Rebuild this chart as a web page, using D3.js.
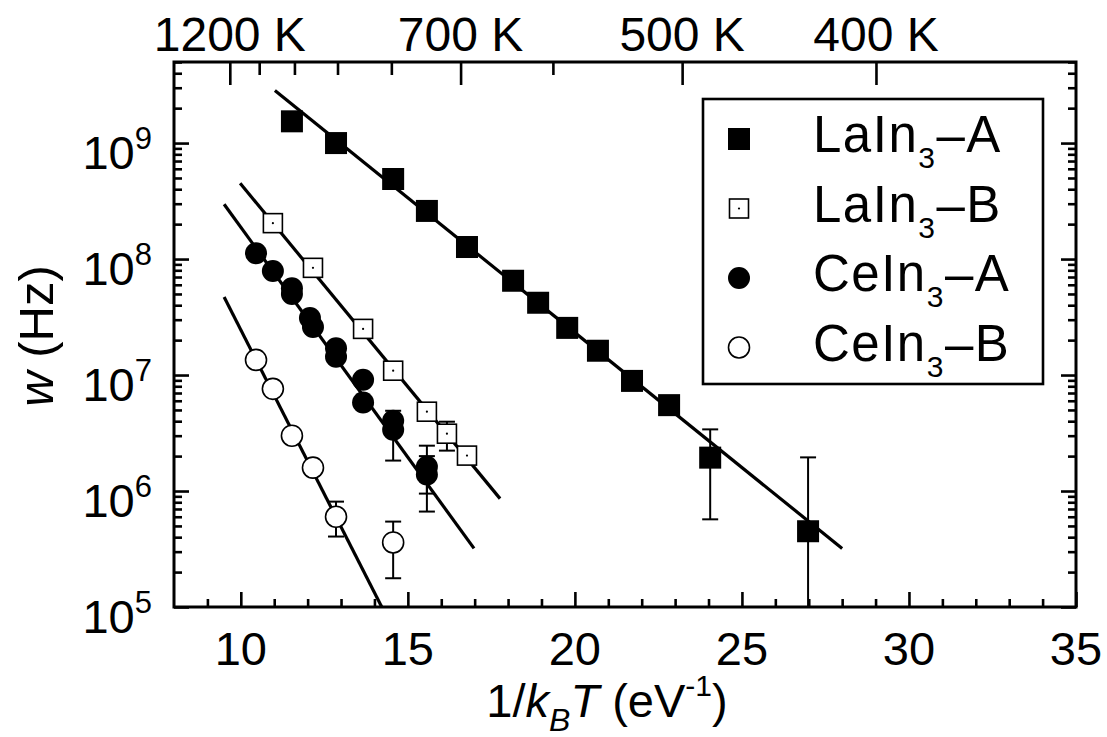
<!DOCTYPE html>
<html lang="en">
<head>
<meta charset="UTF-8">
<title>w vs 1/kBT</title>
<style>
  body { margin: 0; background: #fff; }
  text { font-family: "Liberation Sans", Arial, Helvetica, sans-serif; fill: #000; }
</style>
</head>
<body>
<div id="chart"></div>
<script src="https://d3js.org/d3.v7.min.js"></script>
<script>
// ---- data ----
// LaIn3-A (filled squares)
const laA_x  = [11.53, 12.85, 14.56, 15.57, 16.77, 18.15, 18.90, 19.77, 20.69, 21.71, 22.82, 24.05, 26.98];
const laA_w  = [1.54e9, 1.0e9, 4.9e8, 2.6e8, 1.27e8, 6.5e7, 4.2e7, 2.55e7, 1.62e7, 8.9e6, 5.5e6, 1.94e6, 4.5e5];
const laA_lo = [null, null, null, null, null, null, null, null, null, null, null, 5.7e5, 5e4];
const laA_hi = [null, null, null, null, null, null, null, null, null, null, null, 3.4e6, 1.95e6];
const laA_fit = [[11.02, 2.84e9], [28.0, 3.2e5]];

// LaIn3-B (open squares)
const laB_x  = [10.96, 12.16, 13.66, 14.56, 15.57, 16.17, 16.77];
const laB_w  = [2.04e8, 8.4e7, 2.5e7, 1.09e7, 4.83e6, 3.12e6, 2.02e6];
const laB_lo = [null, null, null, null, null, 2.23e6, null];
const laB_hi = [null, null, null, null, null, 3.96e6, null];
const laB_fit = [[9.98, 4.5e8], [17.76, 8.6e5]];

// CeIn3-A (filled circles)
const ceA_x  = [10.455, 10.96, 11.53, 11.53, 12.07, 12.16, 12.85, 12.85, 13.66, 13.66, 14.56, 14.56, 15.57, 15.57];
const ceA_w  = [1.12e8, 7.9e7, 5.6e7, 5.0e7, 3.1e7, 2.6e7, 1.7e7, 1.44e7, 9.1e6, 5.8e6, 4.04e6, 3.38e6, 1.62e6, 1.39e6];
const ceA_lo = [null, null, null, null, null, null, null, null, null, null, null, 1.83e6, 9.5e5, 6.65e5];
const ceA_hi = [null, null, null, null, null, null, null, null, null, null, null, 4.92e6, 2.46e6, 2.0e6];
const ceA_fit = [[9.50, 2.97e8], [16.98, 3.2e5]];

// CeIn3-B (open circles)
const ceB_x  = [10.455, 10.96, 11.53, 12.16, 12.85, 14.56];
const ceB_w  = [1.35e7, 7.6e6, 3.0e6, 1.59e6, 6.0e5, 3.6e5];
const ceB_lo = [null, null, null, 1.39e6, 4.05e5, 1.77e5];
const ceB_hi = [null, null, null, 1.8e6, 8.1e5, 5.45e5];
const ceB_fit = [[9.50, 4.7e7], [14.30, 0.9e5]];

// axes
const xTicksMajor = [10, 15, 20, 25, 30, 35];
const yDecades = [1e5, 1e6, 1e7, 1e8, 1e9];
const tempMajor = [1200, 700, 500, 400];
const tempMinor = [1100, 1000, 900, 800, 600];
const kB = 8.617e-5; // eV/K

const legendNames = ["LaIn", "LaIn", "CeIn", "CeIn"];
const legendSuffix = ["A", "B", "A", "B"];

// ---- layout ----
const W = 1107, H = 737;
const margin = {top: 62, right: 31, bottom: 130, left: 174};
const w = W - margin.left - margin.right;
const h = H - margin.top - margin.bottom;

const svg = d3.select("#chart").append("svg")
    .attr("width", W).attr("height", H);
const g = svg.append("g")
    .attr("transform", "translate(" + margin.left + "," + margin.top + ")");

const x = d3.scaleLinear().domain([8, 35]).range([0, w]);
const y = d3.scaleLog().domain([1e5, 5e9]).range([h, 0]);

g.append("clipPath").attr("id", "clip")
  .append("rect").attr("width", w).attr("height", h);

// minor y ticks 2..9 per decade
const yMinor = [];
for (let d = 1e5; d < 5e9; d *= 10) {
    for (let m = 2; m <= 9; m++) if (d * m <= 5e9) yMinor.push(d * m);
}
const xMinor = d3.range(9, 35).filter(v => v % 5 !== 0);

function tickStyle(sel) {
    sel.select(".domain").remove();
    sel.selectAll("line").attr("stroke", "#000").attr("stroke-width", 2.6);
    sel.selectAll("text").remove();
}

// left
g.append("g").call(d3.axisLeft(y).tickValues(yDecades).tickSize(-15)).call(tickStyle);
g.append("g").call(d3.axisLeft(y).tickValues(yMinor).tickSize(-8)).call(tickStyle);
// right
g.append("g").attr("transform", "translate(" + w + ",0)")
  .call(d3.axisRight(y).tickValues(yDecades).tickSize(-15)).call(tickStyle);
g.append("g").attr("transform", "translate(" + w + ",0)")
  .call(d3.axisRight(y).tickValues(yMinor).tickSize(-8)).call(tickStyle);
// bottom
g.append("g").attr("transform", "translate(0," + h + ")")
  .call(d3.axisBottom(x).tickValues(xTicksMajor).tickSize(-15)).call(tickStyle);
g.append("g").attr("transform", "translate(0," + h + ")")
  .call(d3.axisBottom(x).tickValues(xMinor).tickSize(-8)).call(tickStyle);
// top : temperature
const invT = T => 1 / (kB * T);
g.append("g").call(d3.axisTop(x).tickValues(tempMajor.map(invT)).tickSize(-23)).call(tickStyle);
g.append("g").call(d3.axisTop(x).tickValues(tempMinor.map(invT)).tickSize(-13)).call(tickStyle);

// frame
g.append("rect").attr("width", w).attr("height", h)
  .attr("fill", "none").attr("stroke", "#000").attr("stroke-width", 3);

// tick labels
const yl = g.append("g").selectAll("text").data(yDecades).join("text")
    .attr("x", -22).attr("y", d => y(d) + 26)
    .attr("text-anchor", "end").attr("font-size", 47);
yl.append("tspan").text("10");
yl.append("tspan").attr("font-size", 31).attr("dy", -20).text(d => Math.round(Math.log10(d)));

g.append("g").selectAll("text").data(xTicksMajor).join("text")
    .attr("x", d => x(d)).attr("y", h + 58)
    .attr("text-anchor", "middle").attr("font-size", 47)
    .text(d => d);

g.append("g").selectAll("text").data(tempMajor).join("text")
    .attr("x", d => x(invT(d))).attr("y", -11)
    .attr("text-anchor", "middle").attr("font-size", 48)
    .text(d => d + " K");

// axis titles
const xt = svg.append("text").attr("x", 607).attr("y", 717)
    .attr("text-anchor", "middle").attr("font-size", 47);
xt.append("tspan").text("1/");
xt.append("tspan").attr("font-style", "italic").text("k");
xt.append("tspan").attr("font-style", "italic").attr("font-size", 32).attr("dy", 14).text("B");
xt.append("tspan").attr("font-style", "italic").attr("dy", -14).text("T");
xt.append("tspan").text(" (eV");
xt.append("tspan").attr("font-size", 30).attr("dy", -21).text("-1");
xt.append("tspan").attr("dy", 21).text(")");

const yt = svg.append("text")
    .attr("transform", "translate(53," + 336 + ") rotate(-90)")
    .attr("text-anchor", "middle").attr("font-size", 49);
yt.append("tspan").attr("font-style", "italic").text("w");
yt.append("tspan").text(" (Hz)");

// ---- data layer ----
const series = [
    {xs: laA_x, ws: laA_w, lo: laA_lo, hi: laA_hi, fit: laA_fit, shape: "square", filled: true},
    {xs: laB_x, ws: laB_w, lo: laB_lo, hi: laB_hi, fit: laB_fit, shape: "square", filled: false},
    {xs: ceA_x, ws: ceA_w, lo: ceA_lo, hi: ceA_hi, fit: ceA_fit, shape: "circle", filled: true},
    {xs: ceB_x, ws: ceB_w, lo: ceB_lo, hi: ceB_hi, fit: ceB_fit, shape: "circle", filled: false}
];

const plot = g.append("g").attr("clip-path", "url(#clip)");
const line = d3.line().x(d => x(d[0])).y(d => y(d[1]));

series.forEach(s => {
    // error bars
    s.xs.forEach((xv, i) => {
        if (s.lo[i] == null) return;
        const eb = plot.append("g").attr("stroke", "#000").attr("stroke-width", 2);
        eb.append("line").attr("x1", x(xv)).attr("x2", x(xv))
          .attr("y1", y(s.lo[i])).attr("y2", y(s.hi[i]));
        [s.lo[i], s.hi[i]].forEach(v => {
            eb.append("line").attr("x1", x(xv) - 8).attr("x2", x(xv) + 8)
              .attr("y1", y(v)).attr("y2", y(v));
        });
    });
    // fit line
    plot.append("path").datum(s.fit).attr("d", line)
        .attr("fill", "none").attr("stroke", "#000").attr("stroke-width", 3.2);
});

function drawMarker(sel, shape, filled, cx, cy) {
    if (shape === "square") {
        const sz = filled ? 22 : 19;
        sel.append("rect").attr("x", cx - sz / 2).attr("y", cy - sz / 2)
            .attr("width", sz).attr("height", sz)
            .attr("fill", filled ? "#000" : "#fff")
            .attr("stroke", "#000").attr("stroke-width", filled ? 0 : 1.6);
        if (!filled) sel.append("circle").attr("cx", cx).attr("cy", cy).attr("r", 1.1).attr("fill", "#000");
    } else {
        sel.append("circle").attr("cx", cx).attr("cy", cy).attr("r", filled ? 11 : 10.5)
            .attr("fill", filled ? "#000" : "#fff")
            .attr("stroke", "#000").attr("stroke-width", filled ? 0 : 1.6);
    }
}

series.forEach(s => {
    s.xs.forEach((xv, i) => drawMarker(plot, s.shape, s.filled, x(xv), y(s.ws[i])));
});

// ---- legend ----
const lg = svg.append("g");
lg.append("rect").attr("x", 703).attr("y", 99).attr("width", 340).attr("height", 285)
  .attr("fill", "#fff").attr("stroke", "#000").attr("stroke-width", 2.6);
series.forEach((s, i) => {
    const cy = 139 + i * 69.5;
    drawMarker(lg, s.shape, s.filled, 739, cy);
    const t = lg.append("text").attr("x", 813).attr("y", cy + 13)
        .attr("font-size", 51).attr("letter-spacing", 1.5);
    t.append("tspan").text(legendNames[i]);
    t.append("tspan").attr("font-size", 30).attr("dy", 16).text("3");
    t.append("tspan").attr("dy", -16).text("\u2013" + legendSuffix[i]);
});
</script>
</body>
</html>
